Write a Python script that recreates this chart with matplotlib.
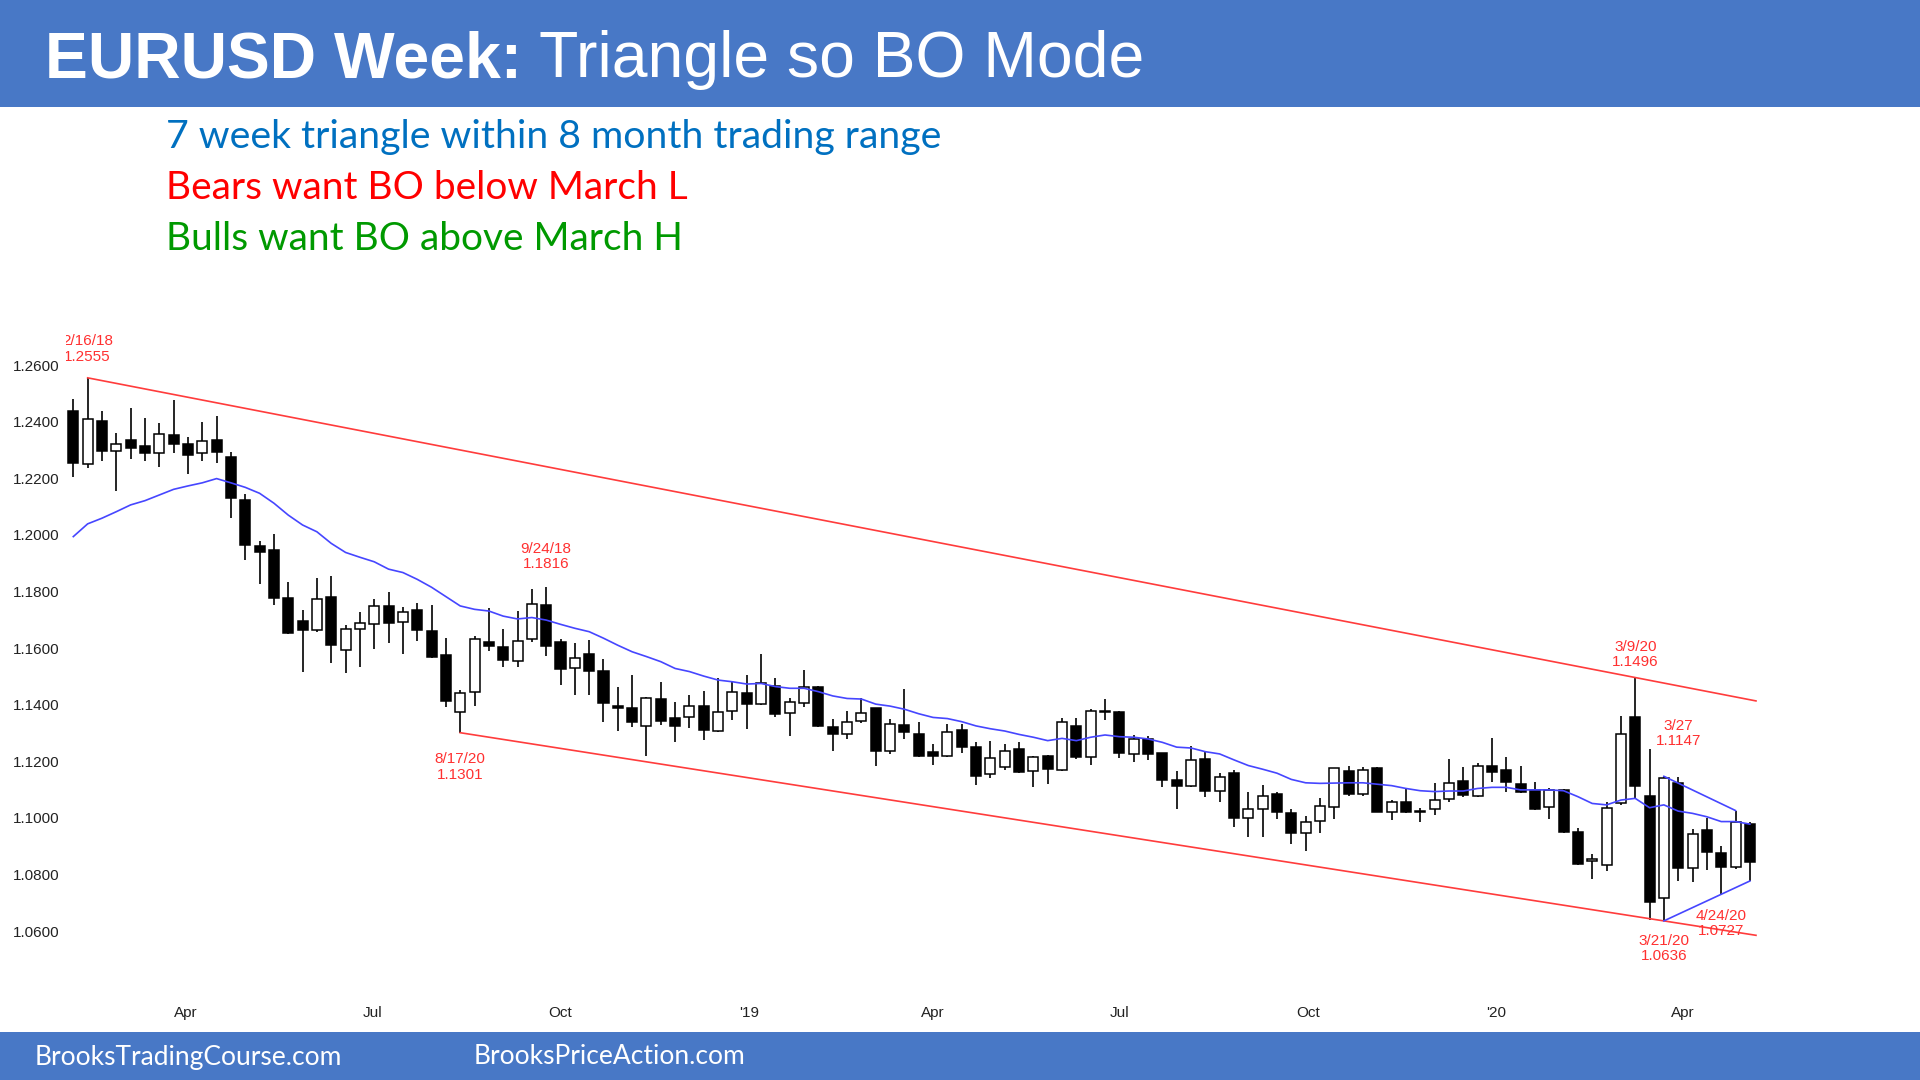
import matplotlib
matplotlib.use("Agg")
import matplotlib.pyplot as plt
import matplotlib.dates as mdates
from matplotlib.patches import Rectangle
import numpy as np
import datetime as dt

plt.rcParams['font.family'] = ['Liberation Sans', 'DejaVu Sans']

# ---------------- data ----------------
first_week = dt.date(2018, 2, 5)

opens = [1.2439, 1.2249, 1.2401, 1.2295, 1.2334, 1.2314, 1.2288, 1.2352, 1.2322, 1.2288,
         1.2334, 1.2276, 1.2123, 1.1960, 1.1948, 1.1778, 1.1695, 1.1664, 1.1779, 1.1593,
         1.1667, 1.1684, 1.1749, 1.1693, 1.1733, 1.1660, 1.1576, 1.1375, 1.1444, 1.1621,
         1.1603, 1.1554, 1.1631, 1.1752, 1.1623, 1.1531, 1.1579, 1.1520, 1.1395, 1.1389,
         1.1326, 1.1420, 1.1352, 1.1355, 1.1395, 1.1308, 1.1378, 1.1440, 1.1402, 1.1466,
         1.1369, 1.1407, 1.1461, 1.1322, 1.1296, 1.1344, 1.1387, 1.1238, 1.1328, 1.1298,
         1.1234, 1.1220, 1.1311, 1.1252, 1.1154, 1.1181, 1.1243, 1.1166, 1.1219, 1.1169,
         1.1326, 1.1216, 1.1374, 1.1375, 1.1226, 1.1279, 1.1228, 1.1134, 1.1113, 1.1208,
         1.1095, 1.1157, 1.0998, 1.1031, 1.1083, 1.1016, 1.0948, 1.0989, 1.1040, 1.1166,
         1.1084, 1.1178, 1.1022, 1.1057, 1.1023, 1.1031, 1.1066, 1.1131, 1.1077, 1.1185,
         1.1169, 1.1120, 1.1099, 1.1040, 1.1099, 1.0949, 1.0848, 1.0834, 1.1054, 1.1358,
         1.1079, 1.0716, 1.1124, 1.0822, 1.0957, 1.0877, 1.0828, 1.0978]
highs = [1.2479, 1.2555, 1.2439, 1.2359, 1.2450, 1.2414, 1.2394, 1.2478, 1.2347, 1.2398,
         1.2420, 1.2294, 1.2143, 1.1980, 1.2002, 1.1834, 1.1736, 1.1847, 1.1855, 1.1682,
         1.1726, 1.1774, 1.1797, 1.1746, 1.1758, 1.1752, 1.1637, 1.1452, 1.1643, 1.1740,
         1.1666, 1.1731, 1.1808, 1.1816, 1.1632, 1.1619, 1.1629, 1.1560, 1.1464, 1.1505,
         1.1428, 1.1481, 1.1408, 1.1434, 1.1450, 1.1493, 1.1479, 1.1505, 1.1578, 1.1495,
         1.1425, 1.1523, 1.1466, 1.1348, 1.1379, 1.1422, 1.1389, 1.1348, 1.1454, 1.1340,
         1.1260, 1.1331, 1.1331, 1.1269, 1.1273, 1.1260, 1.1269, 1.1219, 1.1222, 1.1352,
         1.1352, 1.1384, 1.1420, 1.1378, 1.1293, 1.1289, 1.1231, 1.1167, 1.1255, 1.1234,
         1.1157, 1.1169, 1.1090, 1.1116, 1.1090, 1.1031, 1.1007, 1.1071, 1.1178, 1.1185,
         1.1181, 1.1181, 1.1063, 1.1102, 1.1034, 1.1122, 1.1207, 1.1181, 1.1193, 1.1281,
         1.1214, 1.1183, 1.1126, 1.1104, 1.1101, 1.0966, 1.0871, 1.1057, 1.1361, 1.1496,
         1.1243, 1.1147, 1.1145, 1.0961, 1.1001, 1.0902, 1.1026, 1.0987]
lows = [1.2206, 1.2235, 1.2261, 1.2156, 1.2269, 1.2261, 1.2241, 1.2288, 1.2214, 1.2261,
        1.2253, 1.2059, 1.1911, 1.1827, 1.1751, 1.1650, 1.1514, 1.1656, 1.1548, 1.1511,
        1.1532, 1.1596, 1.1617, 1.1579, 1.1626, 1.1566, 1.1393, 1.1301, 1.1397, 1.1588,
        1.1532, 1.1534, 1.1620, 1.1573, 1.1470, 1.1434, 1.1434, 1.1338, 1.1307, 1.1320,
        1.1219, 1.1328, 1.1269, 1.1316, 1.1275, 1.1305, 1.1346, 1.1313, 1.1398, 1.1355,
        1.1290, 1.1393, 1.1322, 1.1238, 1.1279, 1.1334, 1.1183, 1.1226, 1.1279, 1.1216,
        1.1187, 1.1216, 1.1228, 1.1116, 1.1142, 1.1169, 1.1157, 1.1110, 1.1120, 1.1167,
        1.1207, 1.1187, 1.1346, 1.1213, 1.1199, 1.1205, 1.1108, 1.1031, 1.1108, 1.1075,
        1.1057, 1.0969, 1.0931, 1.0934, 1.0996, 1.0908, 1.0884, 1.0945, 1.0996, 1.1077,
        1.1077, 1.1020, 1.0993, 1.1016, 1.0984, 1.1010, 1.1057, 1.1075, 1.1075, 1.1126,
        1.1090, 1.1089, 1.1028, 1.0996, 1.0945, 1.0834, 1.0783, 1.0814, 1.1046, 1.1069,
        1.0640, 1.0636, 1.0778, 1.0775, 1.0816, 1.0727, 1.0818, 1.0777]
closes = [1.2253, 1.2409, 1.2295, 1.2322, 1.2308, 1.2289, 1.2357, 1.2321, 1.2282, 1.2331,
          1.2292, 1.2130, 1.1963, 1.1941, 1.1776, 1.1652, 1.1664, 1.1773, 1.1611, 1.1666,
          1.1687, 1.1748, 1.1687, 1.1726, 1.1664, 1.1570, 1.1413, 1.1440, 1.1631, 1.1609,
          1.1558, 1.1626, 1.1757, 1.1607, 1.1525, 1.1564, 1.1519, 1.1407, 1.1388, 1.1338,
          1.1425, 1.1344, 1.1326, 1.1397, 1.1311, 1.1373, 1.1445, 1.1402, 1.1475, 1.1367,
          1.1411, 1.1461, 1.1325, 1.1296, 1.1338, 1.1369, 1.1238, 1.1332, 1.1305, 1.1220,
          1.1220, 1.1305, 1.1252, 1.1149, 1.1211, 1.1238, 1.1161, 1.1214, 1.1173, 1.1340,
          1.1216, 1.1379, 1.1377, 1.1230, 1.1278, 1.1226, 1.1134, 1.1113, 1.1205, 1.1095,
          1.1146, 1.0998, 1.1030, 1.1077, 1.1022, 1.0948, 1.0987, 1.1043, 1.1175, 1.1084,
          1.1169, 1.1022, 1.1057, 1.1020, 1.1021, 1.1063, 1.1124, 1.1081, 1.1185, 1.1163,
          1.1126, 1.1093, 1.1030, 1.1099, 1.0949, 1.0836, 1.0855, 1.1036, 1.1297, 1.1113,
          1.0702, 1.1140, 1.0822, 1.0943, 1.0878, 1.0828, 1.0987, 1.0845]
ma20 = [1.1994, 1.2039, 1.2059, 1.2082, 1.2106, 1.2121, 1.2141, 1.2161, 1.2173, 1.2184,
        1.2199, 1.2184, 1.2168, 1.2147, 1.2112, 1.2070, 1.2035, 1.2011, 1.1970, 1.1938,
        1.1921, 1.1905, 1.1879, 1.1867, 1.1843, 1.1815, 1.1782, 1.1749, 1.1737, 1.1731,
        1.1713, 1.1703, 1.1708, 1.1699, 1.1684, 1.1670, 1.1658, 1.1635, 1.1610, 1.1587,
        1.1570, 1.1552, 1.1528, 1.1517, 1.1501, 1.1487, 1.1481, 1.1473, 1.1475, 1.1464,
        1.1458, 1.1458, 1.1446, 1.1431, 1.1422, 1.1420, 1.1402, 1.1395, 1.1384, 1.1368,
        1.1355, 1.1351, 1.1340, 1.1325, 1.1315, 1.1307, 1.1295, 1.1285, 1.1273, 1.1281,
        1.1273, 1.1285, 1.1293, 1.1287, 1.1285, 1.1279, 1.1267, 1.1250, 1.1247, 1.1234,
        1.1226, 1.1205, 1.1185, 1.1172, 1.1158, 1.1136, 1.1124, 1.1122, 1.1123, 1.1124,
        1.1124, 1.1119, 1.1114, 1.1104, 1.1096, 1.1093, 1.1095, 1.1095, 1.1104, 1.1108,
        1.1108, 1.1099, 1.1099, 1.1099, 1.1096, 1.1075, 1.1051, 1.1046, 1.1063, 1.1069,
        1.1036, 1.1046, 1.1024, 1.1016, 1.1004, 1.0987, 1.0987, 1.0978]

# trend lines: (week index, price) anchors, extended to end date
channel_top = [(1, 1.2555), (109, 1.1496)]
channel_bottom = [(27, 1.1301), (111, 1.0636)]
channel_end = dt.date(2020, 5, 7)
triangle_top = [(111, 1.1147), (116, 1.1026)]
triangle_bottom = [(111, 1.0636), (117, 1.0777)]

yticks = [1.06, 1.08, 1.10, 1.12, 1.14, 1.16, 1.18, 1.20, 1.22, 1.24, 1.26]
xtick_dates = [dt.date(2018, 4, 1), dt.date(2018, 7, 1), dt.date(2018, 10, 1),
               dt.date(2019, 1, 1), dt.date(2019, 4, 1), dt.date(2019, 7, 1),
               dt.date(2019, 10, 1), dt.date(2020, 1, 1), dt.date(2020, 4, 1)]
xtick_labels = ['Apr', 'Jul', 'Oct', "'19", 'Apr', 'Jul', 'Oct', "'20", 'Apr']

# annotations: (text, week index, y position)
annotations = [("2/16/18\n1.2555", 1, 1.2657),
               ("9/24/18\n1.1816", 33, 1.1923),
               ("8/17/20\n1.1301", 27, 1.1180),
               ("3/9/20\n1.1496", 109, 1.1576),
               ("3/27\n1.1147", 112, 1.1297),
               ("3/21/20\n1.0636", 111, 1.0537),
               ("4/24/20\n1.0727", 115, 1.0628)]

# ---------------- figure ----------------
W, H = 1920, 1080
fig = plt.figure(figsize=(W / 100, H / 100), dpi=100)
fig.patch.set_facecolor('white')

def fx(px):
    return px / W

def fy(py):
    return 1 - py / H

BLUE = '#4878C6'
fig.add_artist(Rectangle((0, fy(107)), 1, 107 / H, transform=fig.transFigure,
                         facecolor=BLUE, edgecolor='none', zorder=0))
fig.add_artist(Rectangle((0, 0), 1, fy(1032), transform=fig.transFigure,
                         facecolor=BLUE, edgecolor='none', zorder=0))

fig.text(fx(45), fy(77), "EURUSD Week:", fontsize=46.3, fontweight='bold', color='white',
         ha='left', va='baseline')
fig.text(fx(539), fy(77), "Triangle so BO Mode", fontsize=46.3, color='white',
         ha='left', va='baseline')

sub_font = ['Lato', 'DejaVu Sans']
fig.text(fx(166), fy(148), "7 week triangle within 8 month trading range", fontsize=28.3,
         color='#0070C0', ha='left', va='baseline', family=sub_font)
fig.text(fx(166), fy(199), "Bears want BO below March L", fontsize=28,
         color='#FF0000', ha='left', va='baseline', family=sub_font)
fig.text(fx(166), fy(250), "Bulls want BO above March H", fontsize=28,
         color='#009900', ha='left', va='baseline', family=sub_font)

fig.text(fx(35), fy(1057), "BrooksTradingCourse.com", fontsize=19, color='white',
         ha='left', va='center', family=sub_font)
fig.text(fx(474), fy(1057), "BrooksPriceAction.com", fontsize=19, color='white',
         ha='left', va='center', family=sub_font)

ax = fig.add_axes([fx(66), fy(995), fx(1800) - fx(66), fy(320) - fy(995)])
ax.set_facecolor('white')
for s in ax.spines.values():
    s.set_visible(False)

x0 = mdates.date2num(first_week)
n = len(opens)
xs = np.array([mdates.date2num(first_week + dt.timedelta(weeks=i)) for i in range(n)])
o = np.array(opens); h = np.array(highs); l = np.array(lows); c = np.array(closes)

ax.vlines(xs, l, h, color='black', linewidth=1.2, zorder=2)
bottoms = np.minimum(o, c)
heights = np.maximum(np.abs(c - o), 0.00012)
faces = ['black' if cc < oo else 'white' for oo, cc in zip(o, c)]
ax.bar(xs, heights, bottom=bottoms, width=4.9, color=faces, edgecolor='black',
       linewidth=1.1, zorder=3)

ax.plot(xs, ma20, color='#4646FF', linewidth=1.2, zorder=4)

def week_x(i):
    return mdates.date2num(first_week + dt.timedelta(weeks=i))

def extend(anchors, end_date):
    (i1, p1), (i2, p2) = anchors
    xa, xb = week_x(i1), week_x(i2)
    xe = mdates.date2num(end_date)
    slope = (p2 - p1) / (xb - xa)
    return [xa, xe], [p1, p1 + slope * (xe - xa)]

for anc in (channel_top, channel_bottom):
    lx, ly = extend(anc, channel_end)
    ax.plot(lx, ly, color='#FF3C3C', linewidth=1.2, zorder=5)

for anc in (triangle_top, triangle_bottom):
    ax.plot([week_x(anc[0][0]), week_x(anc[1][0])], [anc[0][1], anc[1][1]],
            color='#4646FF', linewidth=1.2, zorder=5)

for txt, wi, yp in annotations:
    ax.text(week_x(wi), yp, txt, color='#FF3030', fontsize=11, ha='center',
            va='center', linespacing=1.1, clip_on=True, zorder=6)

ax.set_xlim(x0 - 3.57, x0 + 843.5)
ax.set_ylim(1.037418, 1.275937)
ax.set_yticks(yticks)
ax.set_yticklabels([f"{v:.4f}" for v in yticks])
ax.set_xticks([mdates.date2num(d) for d in xtick_dates])
ax.set_xticklabels(xtick_labels)
ax.tick_params(axis='both', length=0, labelsize=11, labelcolor='#222222')
ax.tick_params(axis='y', pad=4.5)
ax.tick_params(axis='x', pad=8)

fig.savefig('out.png', dpi=100, facecolor='white')
